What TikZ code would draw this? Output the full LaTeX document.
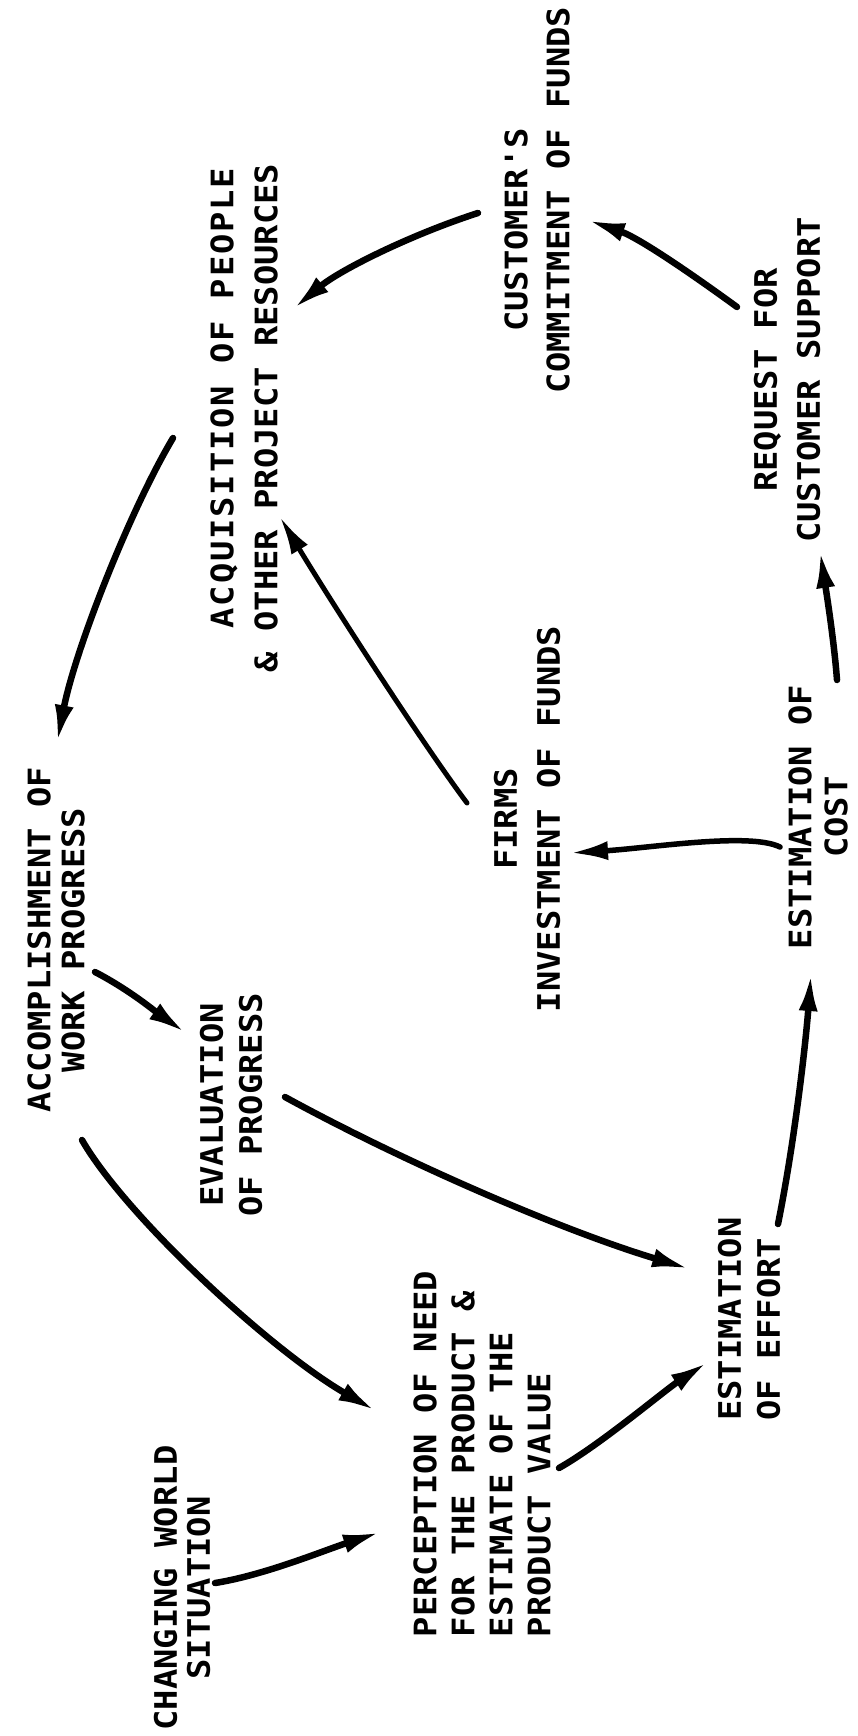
\documentclass[tikz,border=0pt]{standalone}
\usepackage{fontspec}
\newfontfamily\leroy[FakeStretch=1.09]{DejaVu Sans Mono}
\usetikzlibrary{arrows.meta,calc}
\begin{document}
\begin{tikzpicture}[x=1pt,y=-1pt, line cap=round, line join=round,
		lettering/.style={rotate=90, inner sep=0pt, align=center, font=\leroy\bfseries\fontsize{31}{#1}\selectfont},
		lettering/.default=40,
		flow/.style={line width=6.5pt, -{Latex[length=38pt,width=19pt]}}]
	\useasboundingbox (0,0) rectangle (858,1736);
	%% the labels, all set sideways
	\node[lettering=33] (world) at (182,1588) {CHANGING WORLD\\SITUATION};
	\node[lettering=38, align=left] (perc) at (482,1454) {PERCEPTION OF NEED\\FOR THE PRODUCT \&\\ESTIMATE OF THE\\PRODUCT VALUE};
	\node[lettering=39, align=left] (effort) at (749,1319) {ESTIMATION\\OF EFFORT};
	\node[lettering=39] (eval) at (231,1105) {EVALUATION\\OF PROGRESS};
	\node[lettering=34] (acc) at (56,940) {ACCOMPLISHMENT OF\\WORK PROGRESS};
	\node[lettering=43] (firms) at (527,819) {FIRMS\\INVESTMENT OF FUNDS};
	\node[lettering=36] (cost) at (818,817) {ESTIMATION OF\\COST};
	\node[lettering=43] (request) at (787,380) {REQUEST FOR\\CUSTOMER SUPPORT};
	\node[lettering=42] (customer) at (537,200) {CUSTOMER'S\hspace*{60pt}\\COMMITMENT OF FUNDS};
	\node[lettering=44] (acq) at (244,418) {\hspace*{40pt}{\addfontfeature{LetterSpace=6}ACQUISITION OF PEOPLE}\\\& OTHER PROJECT RESOURCES};
	%% the loop of arrows
	\draw[flow] ($(world)+(33,-5)$) .. controls (265,1575) and (325,1550) .. ($(perc)+(-101,78)$);
	\draw[flow] ($(acc)+(26,200)$) .. controls (125,1215) and (270,1350) .. ($(perc)+(-106,-43)$);
	\draw[flow] ($(acc)+(39,32)$) .. controls (130,990) and (160,1015) .. ($(eval)+(-45,-72)$);
	\draw[flow] ($(eval)+(54,-8)$) .. controls (400,1160) and (560,1230) .. ($(effort)+(-59,-50)$);
	\draw[flow] ($(perc)+(77,14)$) .. controls (600,1445) and (665,1390) .. ($(effort)+(-41,43)$);
	\draw[flow] ($(effort)+(29,-95)$) .. controls (795,1140) and (806,1040) .. ($(cost)+(-7,156)$);
	\draw[flow, line width=5.5pt] ($(cost)+(-38,30)$) .. controls (750,832) and (650,848) .. ($(firms)+(43,34)$);
	\draw[flow] ($(cost)+(19,-137)$) .. controls (834,640) and (826,590) .. ($(request)+(33,170)$);
	\draw[flow] ($(request)+(-50,-73)$) .. controls (700,280) and (640,238) .. ($(customer)+(50,20)$);
	\draw[flow] ($(customer)+(-59,13)$) .. controls (410,235) and (340,270) .. ($(acq)+(49,-109)$);
	\draw[flow, line width=5pt] ($(firms)+(-60,-16)$) .. controls (420,740) and (330,600) .. ($(acq)+(36,99)$);
	\draw[flow] ($(acq)+(-71,20)$) .. controls (130,510) and (75,650) .. ($(acc)+(1,-197)$);
\end{tikzpicture}
\end{document}
